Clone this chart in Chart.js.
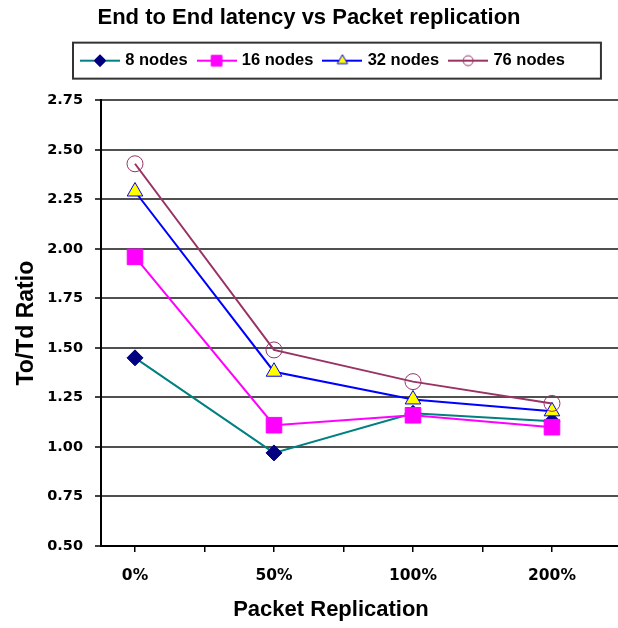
<!DOCTYPE html>
<html>
<head>
<meta charset="utf-8">
<script src="https://cdn.jsdelivr.net/npm/chart.js@4/dist/chart.umd.min.js"></script>
<style>
  html, body { margin: 0; padding: 0; background: #fff; }
  #wrap { width: 618px; height: 628px; }
</style>
</head>
<body>
<div id="wrap"><canvas id="latencyChart" width="618" height="628"></canvas></div>
<script>
// values
const replication = ['0%', '50%', '100%', '200%'];
const nodes8  = [1.45, 0.97, 1.17, 1.13];
const nodes16 = [1.96, 1.11, 1.16, 1.10];
const nodes32 = [2.29, 1.38, 1.24, 1.18];
const nodes76 = [2.43, 1.49, 1.33, 1.22];
const seriesNames = ['8 nodes', '16 nodes', '32 nodes', '76 nodes'];
const yMin = 0.5, yMax = 2.75, yStep = 0.25;

const titleText = 'End to End latency vs Packet replication';
const xTitleText = 'Packet Replication';
const yTitleText = 'To/Td Ratio';

function toPoints(values) {
    return values.map((v, i) => ({x: i, y: v}));
}

// small line + marker picture for the legend
function legendSample(ds, r) {
    let c = document.createElement('canvas');
    c.width = 40; c.height = 20;
    let g = c.getContext('2d');
    g.strokeStyle = ds.borderColor;
    g.lineWidth = 2;
    g.beginPath(); g.moveTo(0, 10); g.lineTo(40, 10); g.stroke();
    g.fillStyle = ds.pointBackgroundColor;
    g.strokeStyle = ds.pointBorderColor;
    g.lineWidth = 1;
    Chart.helpers.drawPoint(g, {pointStyle: ds.pointStyle, radius: r, borderWidth: 1, rotation: 0}, 20, 10);
    return c;
}

const datasets = [
    {label: seriesNames[0], data: toPoints(nodes8), borderColor: '#008080', pointStyle: 'rectRot',
     pointRadius: 8, pointBackgroundColor: '#000080', pointBorderColor: '#000080', order: 4, legendR: 6},
    {label: seriesNames[1], data: toPoints(nodes16), borderColor: '#ff00ff', pointStyle: 'rect',
     pointRadius: 11, pointBackgroundColor: '#ff00ff', pointBorderColor: '#ff00ff', order: 3, legendR: 7.5},
    {label: seriesNames[2], data: toPoints(nodes32), borderColor: '#0000ff', pointStyle: 'triangle',
     pointRadius: 9, pointBackgroundColor: '#ffff00', pointBorderColor: '#0000ff', order: 2, legendR: 6},
    {label: seriesNames[3], data: toPoints(nodes76), borderColor: '#993366', pointStyle: 'circle',
     pointRadius: 8, pointBackgroundColor: 'rgba(255,255,255,0)', pointBorderColor: '#993366', order: 1, legendR: 5}
];
datasets.forEach(ds => {
    ds.borderWidth = 2;
    ds.pointBorderWidth = 1;
    ds.pointHoverRadius = ds.pointRadius;
    ds.fill = false;
    ds.tension = 0;
});

// move the legend row and draw its frame, draw the x title
const legendFrame = {
    id: 'legendFrame',
    afterLayout(chart) {
        let lg = chart.legend;
        lg.left = 2 * 83 - 12 - lg.right + lg.lineWidths[0];
    },
    afterDraw(chart) {
        let ctx = chart.ctx;
        let hb = chart.legend.legendHitBoxes;
        let first = hb[0], last = hb[hb.length - 1];
        let x0 = first.left - 10, x1 = last.left + last.width + 36;
        let cy = first.top + first.height / 2;
        ctx.save();
        ctx.strokeStyle = '#333';
        ctx.lineWidth = 2;
        ctx.strokeRect(x0, cy - 18, x1 - x0, 36);
        ctx.fillStyle = '#000';
        ctx.font = 'bold 22px "Liberation Sans", Arial, sans-serif';
        ctx.textAlign = 'center';
        ctx.textBaseline = 'middle';
        ctx.fillText(xTitleText, 331, 610);
        ctx.restore();
    }
};

Chart.defaults.font.family = '"Liberation Sans", Arial, sans-serif';
Chart.defaults.color = '#000';

let ctx = document.getElementById('latencyChart').getContext('2d');
let chart = new Chart(ctx, {
    type: 'line',
    data: {datasets: datasets},
    options: {
        responsive: false,
        animation: false,
        devicePixelRatio: 1,
        layout: {padding: 0, autoPadding: false},
        plugins: {
            tooltip: {enabled: false},
            title: {
                display: true,
                text: titleText,
                color: '#000',
                font: {size: 22, weight: 'bold'},
                padding: {top: 5, bottom: 9}
            },
            subtitle: {
                display: true,
                text: '',
                weight: 500,
                font: {size: 10},
                padding: {top: 0, bottom: 9.5}
            },
            legend: {
                display: true,
                position: 'top',
                labels: {
                    usePointStyle: true,
                    pointStyleWidth: 34,
                    padding: 12,
                    color: '#000',
                    font: {size: 16.5, weight: 'bold'},
                    generateLabels: function (chart) {
                        return chart.data.datasets.map((ds, i) => ({
                            text: ds.label,
                            pointStyle: legendSample(ds, ds.legendR),
                            fillStyle: ds.borderColor,
                            strokeStyle: ds.borderColor,
                            lineWidth: 0,
                            hidden: false,
                            datasetIndex: i,
                            fontColor: '#000'
                        }));
                    }
                }
            }
        },
        scales: {
            x: {
                type: 'linear',
                min: -0.2446,
                max: 3.475,
                afterFit: function (scale) {
                    scale.height = 82;
                    scale.paddingLeft = 0;
                    scale.paddingRight = 0;
                },
                border: {display: true, color: '#000', width: 2},
                grid: {display: true, drawOnChartArea: false, drawTicks: true, tickLength: 6, color: '#000', lineWidth: 1.5},
                ticks: {
                    stepSize: 0.5,
                    includeBounds: false,
                    autoSkip: false,
                    maxRotation: 0,
                    padding: 15,
                    color: '#000',
                    font: {family: '"DejaVu Sans", sans-serif', size: 15.5, weight: 'bold'},
                    callback: function (v) { return Number.isInteger(v) ? replication[v] : ''; }
                },
                title: {display: false}
            },
            y: {
                min: yMin,
                max: yMax,
                afterFit: function (scale) { scale.width = 101; },
                border: {display: true, color: '#000', width: 2},
                grid: {color: '#505050', lineWidth: 2, tickLength: 6, tickColor: '#000', tickWidth: 1.5},
                ticks: {
                    stepSize: yStep,
                    padding: 12,
                    color: '#000',
                    font: {family: '"DejaVu Sans", sans-serif', size: 14.5, weight: 'bold'},
                    callback: function (v) { return v.toFixed(2); }
                },
                title: {
                    display: true,
                    text: yTitleText,
                    color: '#000',
                    font: {size: 23, weight: 'bold'},
                    padding: {top: 13, bottom: 0}
                }
            }
        }
    },
    plugins: [legendFrame]
});
</script>
</body>
</html>
